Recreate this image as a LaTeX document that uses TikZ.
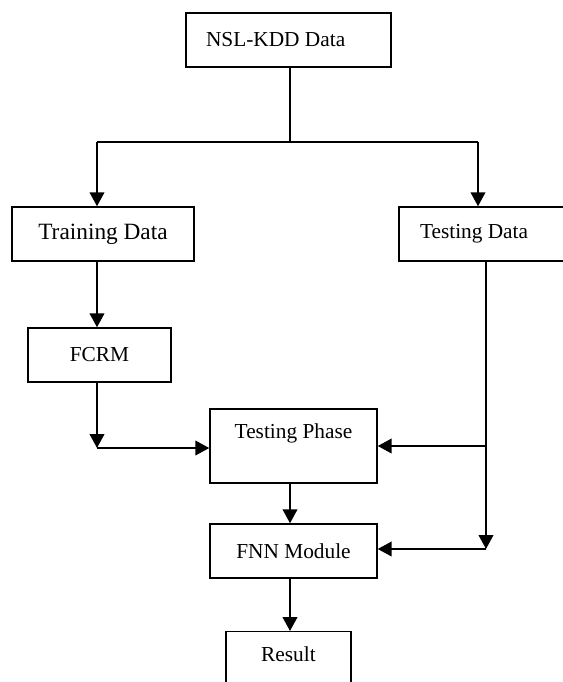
\documentclass[tikz,border=0pt]{standalone}
\usepackage{fontspec}
\setmainfont{Liberation Serif}
\usetikzlibrary{arrows.meta,positioning,calc}

\begin{document}
\begin{tikzpicture}[x=0.75pt, y=-0.75pt, ->, >={Triangle[length=10.5pt,width=11pt]}, line width=1.5pt, font=\fontsize{16}{19}\selectfont]
\tikzstyle{block}=[draw=black, line width=1.1pt, rectangle, inner sep=0pt, minimum height=40.5pt]
\tikzstyle{leftblock}=[block, align=left, execute at begin node={\spaceskip=0pt\relax}]
\useasboundingbox (0,0) rectangle (562,682);
\node[leftblock, minimum width=153.75pt, text width=123.75pt, inner xsep=15pt] (nsl) at (288.5,40) {NSL-KDD Data};
\node[block, minimum width=136.5pt, font=\fontsize{17.5}{21}\selectfont] (train) at (103,234) {Training Data};
\node[leftblock, minimum width=132pt, text width=100.5pt, inner xsep=15.75pt] (test) at (487,234) {Testing Data};
\node[block, minimum width=107.25pt] (fcrm) at (99.5,355) {FCRM};
\node[block, minimum width=125.25pt, minimum height=55.5pt, text height=11.5pt, text depth=23pt] (phase) at (293.5,446) {Testing Phase};
\node[block, minimum width=125.25pt] (fnn) at (293.5,551) {FNN Module};
\node[block, minimum width=93.75pt, minimum height=52.5pt, text height=11.5pt, text depth=20pt, anchor=north] (result) at (288.5,631) {Result};
% split of the data and the columns of the connectors
\coordinate (split) at (290,142);
\coordinate (tl) at (97,142);
\coordinate (tr) at (478,142);
\coordinate (rbus) at (486,549);
\coordinate (lbend) at (97,448);
\draw[-] (nsl.south -| split) -- (split);
\draw[-] (tl) -- (tr);
\draw (tl) -- (tl |- train.north);
\draw (tr) -- (tr |- test.north);
\draw (train.south -| tl) -- (fcrm.north -| tl);
\draw (fcrm.south -| tl) -- (lbend);
\draw (lbend) -- (lbend -| phase.west);
\draw (phase.south -| split) -- (fnn.north -| split);
\draw (fnn.south -| split) -- (result.north -| split);
\draw (test.south -| rbus) -- (rbus);
\draw (phase.east -| rbus) -- (phase.east);
\draw (rbus) -- (rbus -| fnn.east);
\end{tikzpicture}
\end{document}
